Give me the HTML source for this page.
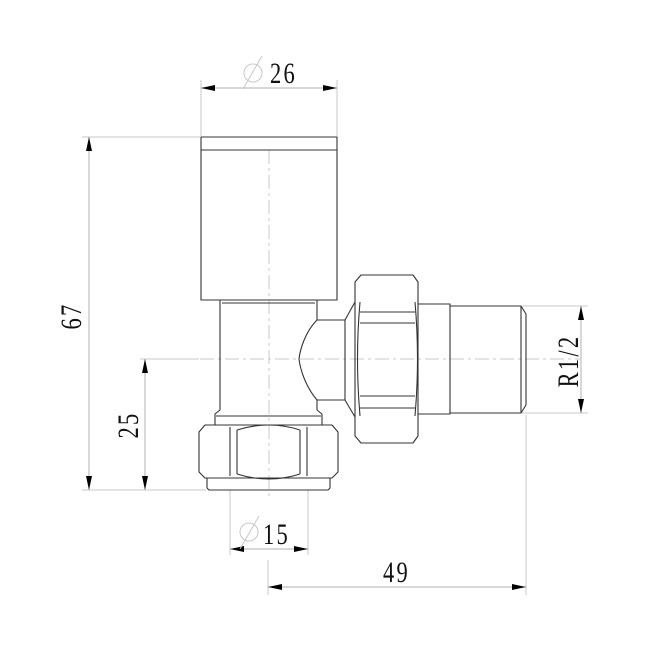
<!DOCTYPE html>
<html><head><style>html,body{margin:0;padding:0;background:#fff}svg{display:block}</style></head>
<body>
<svg width="650" height="650" viewBox="0 0 650 650" xmlns="http://www.w3.org/2000/svg">
<defs>
<marker id="a" viewBox="0 0 14 6" refX="14" refY="3" markerWidth="14" markerHeight="6" markerUnits="userSpaceOnUse" orient="auto-start-reverse"><path d="M0,0L14,3L0,6z" fill="#000"/></marker>
</defs>
<g stroke="#c8c8c8" stroke-width="1" fill="none">
<line x1="201" y1="80" x2="201" y2="136"/><line x1="337" y1="80" x2="337" y2="136"/>
<line x1="82" y1="137" x2="200" y2="137"/>
<line x1="82" y1="490" x2="206" y2="490"/>
<line x1="140" y1="359" x2="199" y2="359"/>
<line x1="230" y1="490" x2="230" y2="555"/><line x1="308" y1="490" x2="308" y2="555"/>
<line x1="268" y1="560" x2="268" y2="595"/><line x1="526" y1="415" x2="526" y2="595"/>
<line x1="522" y1="306" x2="588" y2="306"/><line x1="522" y1="413" x2="588" y2="413"/>
<line x1="201" y1="88" x2="337" y2="88" marker-start="url(#a)" marker-end="url(#a)" stroke="#b0b0b0"/>
<line x1="89" y1="137" x2="89" y2="490" marker-start="url(#a)" marker-end="url(#a)" stroke="#b0b0b0"/>
<line x1="145" y1="359" x2="145" y2="490" marker-start="url(#a)" marker-end="url(#a)" stroke="#b0b0b0"/>
<line x1="230" y1="549" x2="308" y2="549" marker-start="url(#a)" marker-end="url(#a)" stroke="#b0b0b0"/>
<line x1="268" y1="587" x2="526" y2="587" marker-start="url(#a)" marker-end="url(#a)" stroke="#b0b0b0"/>
<line x1="581" y1="306" x2="581" y2="413" marker-start="url(#a)" marker-end="url(#a)" stroke="#b0b0b0"/>
<line x1="269" y1="150" x2="269" y2="500" stroke-dasharray="14,4,3,4"/>
<line x1="200" y1="359" x2="580" y2="359" stroke-dasharray="14,4,3,4"/>
<circle cx="253" cy="73" r="9"/><line x1="243" y1="89" x2="262" y2="56"/>
<circle cx="249" cy="532" r="9"/><line x1="240" y1="549" x2="259" y2="516"/>
</g>
<g stroke="#333" stroke-width="1.1" fill="none" stroke-linejoin="round">
<rect x="201" y="137" width="136" height="163"/>
<line x1="201" y1="150" x2="337" y2="150"/>
<path d="M220,300 L220,410 M317,300 L317,320 M317,400 L317,410"/>
<line x1="222" y1="303" x2="315" y2="303"/>
<path d="M220,410 L215,414 L215,425 M317,410 L322,414 L322,425"/>
<line x1="216" y1="416" x2="321" y2="416"/>
<path d="M205,425 L332,425 L338,432 L338,472 L332,478 L205,478 L199,472 L199,432 Z"/>
<path d="M237,430 Q269,420 300,430 M237,474 Q269,484 300,474"/>
<path d="M230,427 L230,476 M237,430 L237,474 M300,430 L300,474 M307,427 L307,476"/>
<path d="M207,478 L207,488 L209,490 L328,490 L330,488 L330,478"/>
<path d="M317,320 L345,320 M317,400 L345,400 M345,320 L345,400"/>
<path d="M317,320 C305,332 300,350 299,359 C300,368 305,386 317,400"/>
<path d="M345,320 L355,302 M345,400 L355,417"/>
<path d="M361,275 L413,275 L418,282 L418,436 L413,443 L361,443 L355,436 L355,282 Z"/>
<path d="M360,302 Q355,359 360,416 M415,302 Q420,359 415,416"/>
<path d="M360,312 L415,312 M360,323 L415,323 M360,396 L415,396 M360,408 L415,408"/>
<path d="M418,304 L450,304 L450,414 L418,414"/>
<path d="M450,306 L521,306 L526,314 L526,405 L521,413 L450,413"/>
<line x1="521" y1="306" x2="521" y2="413"/>
</g>
<g font-family="Liberation Serif, serif" font-size="30" fill="#111" letter-spacing="3">
<text transform="translate(270,83) scale(0.75,1)">26</text>
<text transform="translate(263,544) scale(0.75,1)">15</text>
<text transform="translate(383,582) scale(0.75,1)">49</text>
<text transform="translate(81,316) rotate(-90) scale(0.75,1)" text-anchor="middle">67</text>
<text transform="translate(138,425) rotate(-90) scale(0.75,1)" text-anchor="middle">25</text>
<text transform="translate(578,361) rotate(-90) scale(0.75,1)" text-anchor="middle">R1/2</text>
</g>
</svg>
</body></html>
